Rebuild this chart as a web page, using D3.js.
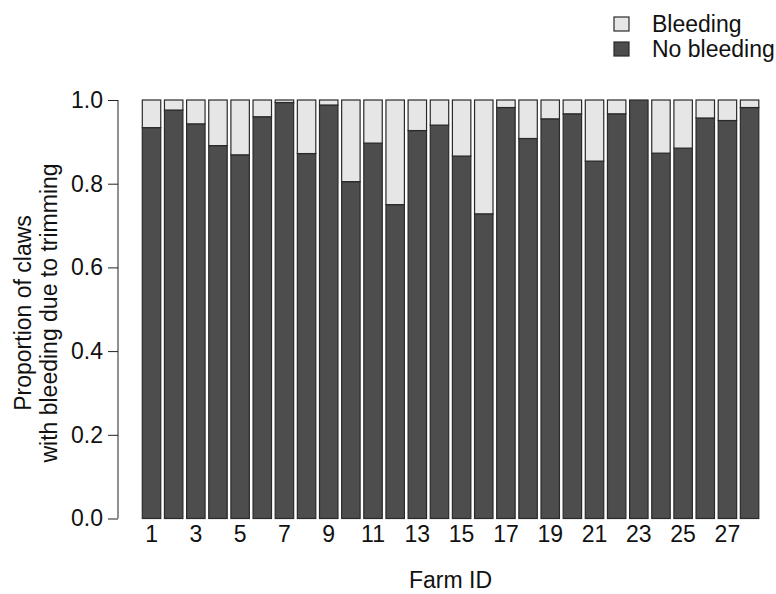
<!DOCTYPE html>
<html>
<head>
<meta charset="utf-8">
<script src="https://cdn.jsdelivr.net/npm/d3@7"></script>
<style>
  html, body { margin: 0; padding: 0; background: #fff; }
  svg { display: block; font-family: "Liberation Sans", Arial, sans-serif; }
</style>
</head>
<body>
<svg id="chart" width="776" height="594"></svg>
<script>
const farms = d3.range(1, 29).map(String);
const noBleeding = [0.934, 0.976, 0.943, 0.891, 0.869, 0.960, 0.994, 0.872, 0.988, 0.805,
                    0.897, 0.750, 0.927, 0.940, 0.866, 0.728, 0.982, 0.908, 0.955, 0.967,
                    0.854, 0.967, 1.000, 0.873, 0.885, 0.957, 0.951, 0.982];
const bleeding   = [0.066, 0.024, 0.057, 0.109, 0.131, 0.040, 0.006, 0.128, 0.012, 0.195,
                    0.103, 0.250, 0.073, 0.060, 0.134, 0.272, 0.018, 0.092, 0.045, 0.033,
                    0.146, 0.033, 0.000, 0.127, 0.115, 0.043, 0.049, 0.018];
const yTicks = [0, 0.2, 0.4, 0.6, 0.8, 1.0];
const xTickLabels = ["1","3","5","7","9","11","13","15","17","19","21","23","25","27"];
const seriesNames = ["Bleeding", "No bleeding"];
const seriesColors = ["#e6e6e6", "#4d4d4d"];

const FS = 23;
const svg = d3.select("#chart");
const x = d3.scaleBand().domain(farms).range([142.3, 758.8]).paddingInner(0.2 / 1.2).paddingOuter(0);
const y = d3.scaleLinear().domain([0, 1]).range([518.5, 100]);

const rows = farms.map((f, i) => ({ farm: f, "No bleeding": noBleeding[i], "Bleeding": bleeding[i] }));
const stack = d3.stack().keys(["No bleeding", "Bleeding"]);
const layers = stack(rows);
const colorOf = { "No bleeding": seriesColors[1], "Bleeding": seriesColors[0] };

svg.append("g").selectAll("g").data(layers).join("g")
  .attr("fill", d => colorOf[d.key])
  .selectAll("rect").data(d => d.filter(p => p[1] - p[0] > 0)).join("rect")
  .attr("x", d => x(d.data.farm))
  .attr("width", x.bandwidth())
  .attr("y", d => y(d[1]))
  .attr("height", d => y(d[0]) - y(d[1]))
  .attr("stroke", "#2a2a2a")
  .attr("stroke-width", 1.2);

// y axis
const yAxis = d3.axisLeft(y).tickValues(yTicks).tickFormat(d3.format(".1f")).tickSize(10).tickPadding(5);
const gy = svg.append("g").attr("transform", "translate(118,0)").call(yAxis);
gy.select(".domain").attr("stroke", "#222").attr("d", `M0,${y(0)}V${y(1)}`);
gy.selectAll(".tick line").attr("stroke", "#222");
gy.selectAll(".tick text").attr("font-size", FS).attr("fill", "#111").attr("font-family", "Liberation Sans, Arial, sans-serif");

// x labels
const xAxis = d3.axisBottom(x).tickValues(xTickLabels).tickSize(0).tickPadding(0);
const gx = svg.append("g").attr("transform", "translate(0,526)").call(xAxis);
gx.select(".domain").remove();
gx.selectAll(".tick text").attr("font-size", FS).attr("fill", "#111").attr("dy", "0.71em")
  .attr("font-family", "Liberation Sans, Arial, sans-serif");

// axis titles
svg.append("text").attr("x", 450.5).attr("y", 588).attr("text-anchor", "middle")
  .attr("font-size", FS).attr("fill", "#111").text("Farm ID");
const yt = svg.append("text").attr("transform", "translate(0,313) rotate(-90)")
  .attr("text-anchor", "middle").attr("font-size", FS).attr("fill", "#111");
yt.append("tspan").attr("x", 0).attr("y", 31).text("Proportion of claws");
yt.append("tspan").attr("x", 0).attr("y", 57).text("with bleeding due to trimming");

// legend
const lg = svg.append("g");
seriesNames.forEach((name, i) => {
  const yy = 24 + i * 25;
  lg.append("rect").attr("x", 614).attr("y", yy - 7).attr("width", 15).attr("height", 14)
    .attr("fill", seriesColors[i]).attr("stroke", "#2a2a2a").attr("stroke-width", 1.2);
  lg.append("text").attr("x", 652).attr("y", yy).attr("dy", "0.35em")
    .attr("font-size", FS).attr("fill", "#111").text(name);
});
</script>
</body>
</html>
